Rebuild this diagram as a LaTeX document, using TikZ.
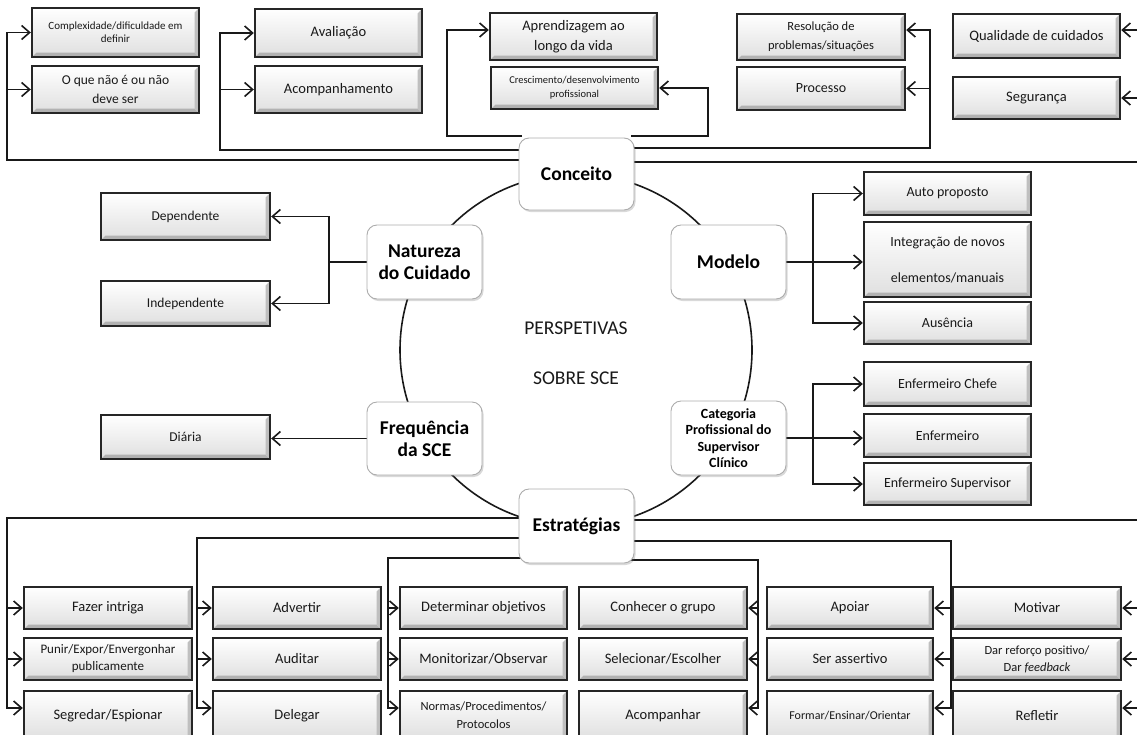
\documentclass[tikz,border=0pt]{standalone}
\usepackage{fontspec}
\setmainfont{Carlito}
\usetikzlibrary{arrows.meta,shadows,backgrounds}

\newcommand\fsz[2]{\fontsize{#1}{#2}\selectfont}
% \mkbox{style}{name}{x1}{y1}{x2}{y2}{text}: box given by its two corners
\newcommand\mkbox[7]{%
  \pgfmathsetmacro\bcx{(#3+#5)/2}%
  \pgfmathsetmacro\bcy{(#4+#6)/2}%
  \pgfmathsetmacro\bwd{#5-#3}%
  \pgfmathsetmacro\bht{#6-#4}%
  \node[#1,minimum width=\bwd pt,minimum height=\bht pt] (#2) at (\bcx,\bcy) {#7};%
}

\tikzset{
  sqbox/.style={draw=black!85, line width=2.4pt, align=center, text=black!90,
    inner sep=0pt, font=\fsz{14.5}{17},
    path picture={
      \shade[top color=white, bottom color=gray!25]
        (path picture bounding box.south west) rectangle (path picture bounding box.north east);
      \fill[gray!60]
        (path picture bounding box.south west) -- (path picture bounding box.south east)
        -- ([shift={(-4.5pt,4.5pt)}]path picture bounding box.south east)
        -- ([shift={(4.5pt,4.5pt)}]path picture bounding box.south west) -- cycle;
      \fill[gray!50]
        (path picture bounding box.south east) -- (path picture bounding box.north east)
        -- ([shift={(-4.5pt,-4.5pt)}]path picture bounding box.north east)
        -- ([shift={(-4.5pt,4.5pt)}]path picture bounding box.south east) -- cycle;
    }},
  rbox/.style={draw=gray!65, line width=0.9pt, rounded corners=10pt, fill=white,
    align=center, text=black, inner sep=0pt, font=\bfseries\fsz{19.5}{22},
    drop shadow={shadow xshift=1.5pt, shadow yshift=-2pt, opacity=.25, fill=black!60}},
  link/.style={draw=black!90, line width=1.6pt},
  arrowed/.style={-{Straight Barb[length=8pt,width=14pt]}},
}

\begin{document}
\begin{tikzpicture}[x=1pt,y=-1pt]
\useasboundingbox (0,0) rectangle (1137,734);
\clip (0,0) rectangle (1137,734);

% ---- central topics
\mkbox{rbox}{con}{519}{138}{634}{210}{Conceito}
\mkbox{rbox}{nat}{367}{225}{482}{299}{Natureza\\do Cuidado}
\mkbox{rbox}{mod}{671}{225}{786}{299}{Modelo}
\mkbox{rbox}{fre}{367}{402}{482}{475}{Frequência\\da SCE}
\mkbox{rbox,font=\bfseries\fsz{14}{16.5}}{cat}{671}{401}{786}{475}{Categoria\\Profissional do\\Supervisor\\Clínico}
\mkbox{rbox}{est}{519}{489}{634}{563}{Estratégias}

\node[font=\fsz{19.5}{22}, text=black!90] (ttl1) at (576,328) {PERSPETIVAS};
\node[font=\fsz{19.5}{22}, text=black!90] (ttl2) at (576,378) {SOBRE SCE};

% ---- Conceito
\mkbox{sqbox,font=\fsz{11}{13}}{c1}{32}{8}{199}{57}{Complexidade/dificuldade em\\definir}
\mkbox{sqbox,font=\fsz{13.5}{19}}{c2}{32}{66}{199}{113}{O que não é ou não\\deve ser}
\mkbox{sqbox}{a1}{255}{9}{422}{57}{Avaliação}
\mkbox{sqbox}{a2}{255}{66}{422}{113}{Acompanhamento}
\mkbox{sqbox,font=\fsz{14.5}{20}}{p1}{490}{13}{657}{60}{Aprendizagem ao\\longo da vida}
\mkbox{sqbox,font=\fsz{10.5}{14}}{p2}{491}{67}{658}{109}{Crescimento/desenvolvimento\\profissional}
\mkbox{sqbox,font=\fsz{12.5}{19}}{r1}{737}{14}{905}{60}{Resolução de\\problemas/situações}
\mkbox{sqbox,font=\fsz{14}{17}}{r2}{737}{67}{905}{110}{Processo}
\mkbox{sqbox}{q1}{953}{14}{1120}{58}{Qualidade de cuidados}
\mkbox{sqbox}{q2}{953}{77}{1120}{119}{Segurança}

% ---- Natureza do Cuidado / Frequência
\mkbox{sqbox,font=\fsz{13.5}{16}}{dep}{101}{193}{270}{240}{Dependente}
\mkbox{sqbox,font=\fsz{13.5}{16}}{ind}{101}{281}{270}{326}{Independente}
\mkbox{sqbox,font=\fsz{13.5}{16}}{dia}{101}{415}{270}{459}{Diária}

% ---- Modelo / Categoria
\mkbox{sqbox,font=\fsz{14}{17}}{aut}{864}{172}{1031}{215}{Auto proposto}
\mkbox{sqbox,font=\fsz{14}{36}}{int}{864}{222}{1031}{297}{Integração de novos\\elementos/manuais}
\mkbox{sqbox,font=\fsz{14}{17}}{aus}{864}{302}{1031}{344}{Ausência}
\mkbox{sqbox,font=\fsz{14}{17}}{chf}{864}{362}{1031}{406}{Enfermeiro Chefe}
\mkbox{sqbox,font=\fsz{14}{17}}{enf}{864}{414}{1031}{457}{Enfermeiro}
\mkbox{sqbox,font=\fsz{14}{17}}{sup}{864}{463}{1031}{505}{Enfermeiro Supervisor}

% ---- Estratégias
\mkbox{sqbox}{k11}{24}{587}{192}{629}{Fazer intriga}
\mkbox{sqbox,font=\fsz{13}{17}}{k12}{24}{638}{192}{680}{Punir/Expor/Envergonhar\\publicamente}
\mkbox{sqbox}{k13}{24}{691}{192}{740}{Segredar/Espionar}
\mkbox{sqbox}{k21}{213}{587}{381}{629}{Advertir}
\mkbox{sqbox}{k22}{213}{638}{381}{680}{Auditar}
\mkbox{sqbox}{k23}{213}{691}{381}{740}{Delegar}
\mkbox{sqbox}{k31}{400}{587}{567}{629}{Determinar objetivos}
\mkbox{sqbox}{k32}{400}{638}{567}{680}{Monitorizar/Observar}
\mkbox{sqbox,font=\fsz{12.5}{18}}{k33}{400}{691}{567}{740}{Normas/Procedimentos/\\Protocolos}
\mkbox{sqbox}{k41}{579}{587}{747}{629}{Conhecer o grupo}
\mkbox{sqbox}{k42}{579}{638}{747}{680}{Selecionar/Escolher}
\mkbox{sqbox}{k43}{579}{691}{747}{740}{Acompanhar}
\mkbox{sqbox}{k51}{767}{587}{933}{629}{Apoiar}
\mkbox{sqbox}{k52}{767}{638}{933}{680}{Ser assertivo}
\mkbox{sqbox,font=\fsz{12}{15}}{k53}{767}{691}{933}{740}{Formar/Ensinar/Orientar}
\mkbox{sqbox}{k61}{953}{587}{1121}{629}{Motivar}
\mkbox{sqbox,font=\fsz{12.5}{17}}{k62}{953}{638}{1121}{680}{Dar reforço positivo/\\Dar \textit{feedback}}
\mkbox{sqbox}{k63}{953}{691}{1121}{740}{Refletir}

\begin{scope}[on background layer]
  % ring joining the topics
  \draw[link] (576,350) circle[radius=176pt];

  % Conceito branches
  \coordinate (t1) at (7,160);
  \draw[link,arrowed] (con.center |- t1) -- (t1) |- (c1.west);
  \draw[link,arrowed] (t1 |- c2.west) -- (c2.west);

  \coordinate (t2) at (220,150);
  \draw[link,arrowed] (con.center |- t2) -- (t2) |- (a1.west);
  \draw[link,arrowed] (t2 |- a2.west) -- (a2.west);

  \coordinate (t3) at (447,136);
  \coordinate (t3r) at (708,136);
  \coordinate (kl) at (522,136);
  \coordinate (kr) at (631,136);
  \draw[link,arrowed] (kl) -- (t3) |- (p1.west |- 0,30);
  \draw[link,arrowed] (kr) -- (t3r) |- (p2.east);

  \coordinate (t4) at (930,148);
  \draw[link,arrowed] (con.center |- t4) -- (t4) |- (r1.east |- 0,30);
  \draw[link,arrowed] (t4 |- r2.east) -- (r2.east);

  \coordinate (t5) at (1137,162);
  \draw[link] (con.center |- t5) -- (t5);
  \draw[link,arrowed] (t5 |- 0,30) -- (q1.east |- 0,30);
  \draw[link,arrowed] (t5 |- q2.east) -- (q2.east);

  % Natureza do Cuidado
  \coordinate (t6) at (329,0);
  \draw[link] (nat.west) -- (nat.west -| t6);
  \draw[link,arrowed] (nat.west -| t6) |- (dep.east);
  \draw[link,arrowed] (nat.west -| t6) |- (ind.east);

  % Modelo
  \coordinate (t7) at (813,0);
  \draw[link,arrowed] (mod.east) -- (mod.east -| int.west);
  \draw[link,arrowed] (mod.east -| t7) |- (aut.west);
  \draw[link,arrowed] (mod.east -| t7) |- (aus.west);

  % Frequência
  \draw[link,arrowed] (fre.west) -- (fre.west -| dia.east);

  % Categoria
  \draw[link,arrowed] (cat.east) -- (cat.east -| enf.west);
  \draw[link,arrowed] (cat.east -| t7) |- (chf.west);
  \draw[link,arrowed] (cat.east -| t7) |- (sup.west);

  % Estratégias branches
  \coordinate (s1) at (7,518);
  \coordinate (s2) at (197,538);
  \coordinate (s3) at (388,558);
  \coordinate (s4) at (758,560);
  \coordinate (s5) at (951,541);
  \coordinate (s6) at (1137,520);

  \draw[link,arrowed] (est.center |- s1) -- (s1) |- (k13.west |- 0,708);
  \draw[link,arrowed] (s1 |- k11.west) -- (k11.west);
  \draw[link,arrowed] (s1 |- k12.west) -- (k12.west);

  \draw[link,arrowed] (est.center |- s2) -- (s2) |- (k23.west |- 0,708);
  \draw[link,arrowed] (s2 |- k21.west) -- (k21.west);
  \draw[link,arrowed] (s2 |- k22.west) -- (k22.west);

  \draw[link,arrowed] (est.center |- s3) -- (s3) |- (k33.west |- 0,708);
  \draw[link,arrowed] (s3 |- k31.west) -- (k31.west);
  \draw[link,arrowed] (s3 |- k32.west) -- (k32.west);

  \draw[link,arrowed] (est.center |- s4) -- (s4) |- (k43.east |- 0,708);
  \draw[link,arrowed] (s4 |- k41.east) -- (k41.east);
  \draw[link,arrowed] (s4 |- k42.east) -- (k42.east);

  \draw[link,arrowed] (est.center |- s5) -- (s5) |- (k53.east |- 0,708);
  \draw[link,arrowed] (s5 |- k51.east) -- (k51.east);
  \draw[link,arrowed] (s5 |- k52.east) -- (k52.east);

  \draw[link] (est.center |- s6) -- (s6);
  \draw[link,arrowed] (s6 |- k61.east) -- (k61.east);
  \draw[link,arrowed] (s6 |- k62.east) -- (k62.east);
  \draw[link,arrowed] (s6 |- 0,708) -- (k63.east |- 0,708);
\end{scope}
\end{tikzpicture}
\end{document}
